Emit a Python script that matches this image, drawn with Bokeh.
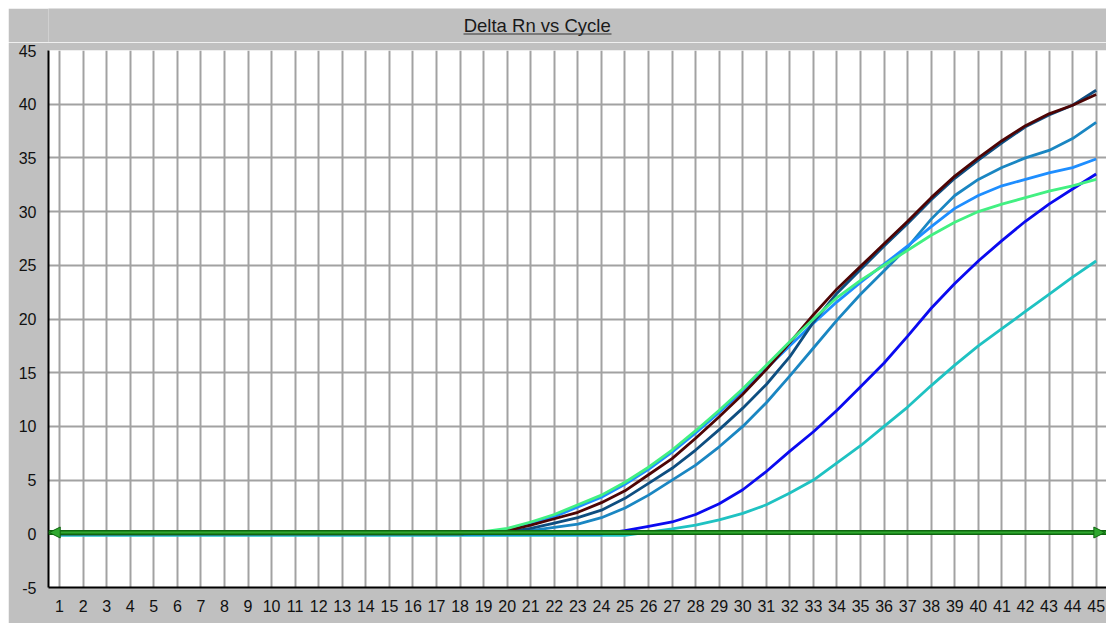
from bokeh.plotting import figure
from bokeh.layouts import column
from bokeh.models import Range1d, FixedTicker, Span, Arrow, NormalHead, PrintfTickFormatter
from bokeh.core.properties import value
from bokeh.embed import file_html
from bokeh.resources import INLINE

# ---------------- data ----------------
title_text = "Delta Rn vs Cycle"
cycles = list(range(1, 46))
y_ticks = [-5, 0, 5, 10, 15, 20, 25, 30, 35, 40, 45]
threshold = 0.12

s_brown = [0.0, 0.0, 0.0, 0.0, 0.0, 0.0, 0.0, 0.0, 0.0, 0.0, 0.0, 0.0, 0.0, 0.0, 0.0, 0.0, 0.0, 0.0,
           0.1, 0.3, 0.8, 1.4, 2.0, 2.9, 4.0, 5.5, 7.0, 8.9, 10.9, 13.0, 15.3, 17.8, 20.4, 22.8, 24.9,
           27.0, 29.1, 31.3, 33.3, 35.0, 36.6, 38.0, 39.1, 39.9, 40.9]
s_navy = [0.0, 0.0, 0.0, 0.0, 0.0, 0.0, 0.0, 0.0, 0.0, 0.0, 0.0, 0.0, 0.0, 0.0, 0.0, 0.0, 0.0, 0.0,
          0.05, 0.2, 0.5, 1.0, 1.5, 2.2, 3.3, 4.7, 6.1, 7.8, 9.7, 11.7, 13.9, 16.5, 19.7, 22.4, 24.6,
          26.8, 28.9, 31.1, 33.1, 34.8, 36.4, 37.9, 39.0, 39.9, 41.3]
s_steel = [0.0, 0.0, 0.0, 0.0, 0.0, 0.0, 0.0, 0.0, 0.0, 0.0, 0.0, 0.0, 0.0, 0.0, 0.0, 0.0, 0.0, 0.0,
           0.0, 0.1, 0.3, 0.6, 0.9, 1.5, 2.4, 3.6, 5.0, 6.4, 8.1, 10.0, 12.2, 14.7, 17.3, 19.9, 22.3,
           24.5, 26.7, 29.3, 31.5, 33.0, 34.1, 35.0, 35.7, 36.8, 38.3]
s_dodger = [0.0, 0.0, 0.0, 0.0, 0.0, 0.0, 0.0, 0.0, 0.0, 0.0, 0.0, 0.0, 0.0, 0.0, 0.0, 0.0, 0.0, 0.0,
            0.1, 0.3, 0.9, 1.6, 2.5, 3.4, 4.6, 6.0, 7.6, 9.4, 11.3, 13.3, 15.4, 17.5, 19.6, 21.6, 23.4,
            25.1, 26.8, 28.6, 30.3, 31.5, 32.4, 33.0, 33.6, 34.1, 34.9]
s_green = [0.0, 0.0, 0.0, 0.0, 0.0, 0.0, 0.0, 0.0, 0.0, 0.0, 0.0, 0.0, 0.0, 0.0, 0.0, 0.0, 0.0, 0.0,
           0.2, 0.5, 1.1, 1.8, 2.7, 3.6, 4.8, 6.2, 7.8, 9.6, 11.5, 13.5, 15.7, 17.9, 20.0, 22.0, 23.6,
           25.0, 26.4, 27.8, 29.0, 30.0, 30.7, 31.3, 31.9, 32.4, 33.0]
s_blue = [0.0, 0.0, 0.0, 0.0, 0.0, 0.0, 0.0, 0.0, 0.0, 0.0, 0.0, 0.0, 0.0, 0.0, 0.0, 0.0, 0.0, 0.0,
          0.0, 0.0, 0.0, 0.0, 0.0, 0.0, 0.3, 0.7, 1.1, 1.8, 2.8, 4.1, 5.8, 7.7, 9.5, 11.5, 13.7,
          15.9, 18.4, 21.0, 23.3, 25.4, 27.3, 29.1, 30.7, 32.1, 33.5]
s_teal = [-0.15, -0.15, -0.15, -0.15, -0.15, -0.15, -0.15, -0.15, -0.15, -0.15, -0.15, -0.15, -0.15,
          -0.15, -0.15, -0.15, -0.15, -0.15, -0.15, -0.15, -0.15, -0.15, -0.15, -0.15, -0.15,
          0.15, 0.45, 0.8, 1.3, 1.9, 2.7, 3.8, 5.0, 6.6, 8.2, 10.0, 11.8, 13.8, 15.7, 17.5, 19.1,
          20.7, 22.3, 23.9, 25.4]

series = [
    (s_teal, "#1fc2c2"),
    (s_blue, "#0a0af0"),
    (s_steel, "#1a86c2"),
    (s_dodger, "#1e8eff"),
    (s_navy, "#0e4e80"),
    (s_brown, "#4e0404"),
    (s_green, "#42f082"),
]

FONT = "Liberation Sans"
GRAY = "#c0c0c0"
W = 1098

# ---------------- title strip (frame is aligned with the chart frame) ----------------
t = figure(width=W, height=34, output_backend="svg", toolbar_location=None,
           x_range=Range1d(40, W), y_range=Range1d(0, 34),
           min_border_left=40, min_border_right=0, min_border_top=0, min_border_bottom=0)
t.axis.visible = False
t.grid.visible = False
t.outline_line_color = None
t.background_fill_color = GRAY
t.border_fill_color = GRAY
t.text(x=[528.7], y=[17], text=[title_text], text_align="center", text_baseline="middle",
       text_font=value(FONT), text_font_size="18.5px", text_color="#1a1a1a")
t.segment(x0=[455], y0=[8.5], x1=[603], y1=[8.5], line_color="#333333", line_width=1)

# ---------------- main chart ----------------
p = figure(width=W, height=581, output_backend="svg", toolbar_location=None,
           x_range=Range1d(0.53, 45.44), y_range=Range1d(-5, 45),
           min_border_left=40, min_border_right=0, min_border_top=8, min_border_bottom=36)

p.background_fill_color = "white"
p.border_fill_color = GRAY
p.outline_line_color = None

for ax in (p.xaxis[0], p.yaxis[0]):
    ax.major_tick_line_color = None
    ax.minor_tick_line_color = None
    ax.major_tick_out = 0
    ax.major_tick_in = 0
    ax.minor_tick_out = 0
    ax.axis_line_color = "black"
    ax.axis_line_width = 2
    ax.major_label_text_font = FONT
    ax.major_label_text_font_size = "16px"
    ax.major_label_text_color = "#111111"
    ax.formatter = PrintfTickFormatter(format="%d")
p.xaxis[0].ticker = FixedTicker(ticks=cycles)
p.yaxis[0].ticker = FixedTicker(ticks=y_ticks)
p.xaxis[0].major_label_standoff = 12
p.yaxis[0].major_label_standoff = 12

p.xgrid[0].ticker = FixedTicker(ticks=cycles)
p.ygrid[0].ticker = FixedTicker(ticks=y_ticks)
for g in (p.xgrid[0], p.ygrid[0]):
    g.grid_line_color = "#a2a2a2"
    g.grid_line_width = 2

for ys, col in series:
    p.line(cycles, ys, line_color=col, line_width=2.8)

p.add_layout(Span(location=threshold, dimension="width", line_color="#0f660f", line_width=5))
p.add_layout(Span(location=threshold, dimension="width", line_color="#2fa82f", line_width=2))
xr = p.x_range
head = dict(size=11, fill_color="#2fa82f", line_color="#0f660f", line_width=1)
p.add_layout(Arrow(start=NormalHead(**head), end=NormalHead(**head),
                   x_start=xr.start + 0.03, x_end=xr.end - 0.07,
                   y_start=threshold, y_end=threshold, line_alpha=0))

layout = column(t, p, spacing=0, margin=(8, 0, 0, 8))
open("out.html", "w").write(file_html(layout, INLINE))
